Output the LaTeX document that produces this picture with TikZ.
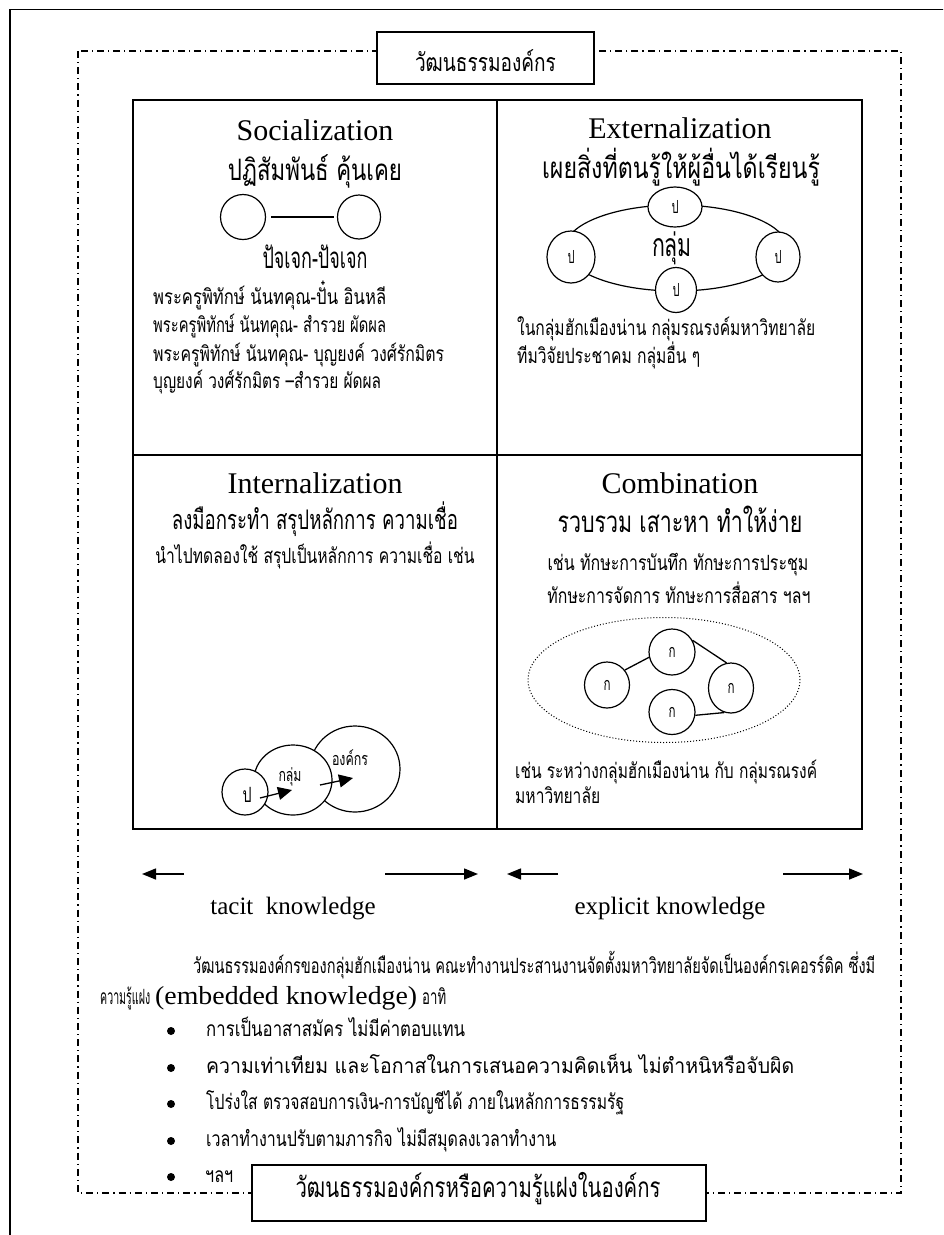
\documentclass[tikz,border=0pt]{standalone}
\usepackage{fontspec}
\setmainfont{Liberation Serif}
\newfontfamily\thai[Script=Thai]{Loma}
\usetikzlibrary{shapes.geometric,arrows.meta}

% Thai text: #1 = font size, #2 = set width, #3 = text
\newcommand{\thw}[3]{\resizebox{#2pt}{\height}{\thai\fontsize{#1}{#1}\selectfont #3}}
% Latin text at a given size
\newcommand{\lat}[2]{{\fontsize{#1}{#1}\selectfont #2}}
% text sizes
\def\thbig{29.5}
\def\thmid{21}

\tikzset{
  outerframe/.style={line width=1.5pt},
  dashdotframe/.style={line width=1.1pt, dash pattern=on 7pt off 4pt on 1.2pt off 4pt},
  labelbox/.style={draw, line width=1.3pt, fill=white, inner sep=0},
  cellline/.style={line width=1.4pt},
  person/.style={draw, ellipse, line width=1.2pt, fill=white, inner sep=0},
  txt/.style={inner sep=0, anchor=base},
  txtw/.style={inner sep=0, anchor=base west},
  kwarrow/.style={line width=1.5pt, -{Triangle[length=14pt,width=11pt]}},
  bigarrow/.style={line width=1.3pt, -{Triangle[length=14pt,width=13pt]}},
  link/.style={line width=1.3pt},
  bulletdot/.style={circle, fill, inner sep=0, minimum size=8pt},
}

\begin{document}
\begin{tikzpicture}[x=1pt,y=-1pt]
\useasboundingbox (0,0) rectangle (943,1235);
\clip (0,0) rectangle (943,1235);

% page frame and dash-dot frame
\draw[outerframe] (10,1240) -- (10,9.5) -- (950,9.5);
\draw[dashdotframe] (78,51) rectangle (901,1193);

% heading box
\node[labelbox, minimum width=217, minimum height=52] (culture) at (485.5,58) {};
\node[txt] (culturetext) at (485.5,71) {\thw{25}{141}{วัฒนธรรมองค์กร}};

% four quadrants
\draw[cellline] (133,100) rectangle (862,829);
\draw[cellline] (497,100) -- (497,829);
\draw[cellline] (133,455) -- (862,455);

% --- Socialization
\node[txt] (soctitle) at (315,140) {\lat{30}{Socialization}};
\node[txt] (socsub) at (315,180) {\thw{\thbig}{174}{ปฏิสัมพันธ์ คุ้นเคย}};
\node[person, minimum width=45, minimum height=45] (pa) at (243,217) {};
\node[person, minimum width=43, minimum height=44] (pb) at (359,217) {};
\draw[link, shorten <=5pt, shorten >=3pt] (pa) -- (pb);
\node[txt] (socpair) at (315,268) {\thw{\thbig}{105}{ปัจเจก-ปัจเจก}};
\node[txtw] (sn1) at (153,304) {\thw{\thmid}{233}{พระครูพิทักษ์ นันทคุณ-ปั๋น อินหลี}};
\node[txtw] (sn2) at (153,332) {\thw{\thmid}{233}{พระครูพิทักษ์ นันทคุณ- สำรวย ผัดผล}};
\node[txtw] (sn3) at (153,361) {\thw{\thmid}{291}{พระครูพิทักษ์ นันทคุณ- บุญยงค์ วงศ์รักมิตร}};
\node[txtw] (sn4) at (153,388) {\thw{\thmid}{228}{บุญยงค์ วงศ์รักมิตร –สำรวย ผัดผล}};

% --- Externalization
\node[txt] (exttitle) at (680,138) {\lat{30}{Externalization}};
\node[txt] (extsub) at (681,178) {\thw{\thbig}{278}{เผยสิ่งที่ตนรู้ให้ผู้อื่นได้เรียนรู้}};
\node[draw, ellipse, line width=1.2pt, minimum width=222, minimum height=86, inner sep=0] (grp) at (676,248) {};
\node[txt] (grptext) at (672,256) {\thw{32}{40}{กลุ่ม}};
\node[person, minimum width=54, minimum height=40] (e1) at (675,207) {\thw{18}{7}{ป}};
\node[person, minimum width=48, minimum height=52] (e2) at (571,257) {\thw{18}{7}{ป}};
\node[person, minimum width=44, minimum height=50] (e3) at (778,257) {\thw{18}{7}{ป}};
\node[person, minimum width=41, minimum height=45] (e4) at (676,290) {\thw{18}{7}{ป}};
\node[txtw] (ex1) at (517,335) {\thw{\thmid}{298}{ในกลุ่มฮักเมืองน่าน กลุ่มรณรงค์มหาวิทยาลัย}};
\node[txtw] (ex2) at (517,363) {\thw{\thmid}{183}{ทีมวิจัยประชาคม กลุ่มอื่น ๆ}};

% --- Internalization
\node[txt] (inttitle) at (315,493) {\lat{30}{Internalization}};
\node[txt] (intsub) at (315,529) {\thw{27}{286}{ลงมือกระทำ สรุปหลักการ ความเชื่อ}};
\node[txt] (intnote) at (315,563) {\thw{\thmid}{319}{นำไปทดลองใช้ สรุปเป็นหลักการ ความเชื่อ เช่น}};
\node[person, minimum width=90, minimum height=86] (org) at (355,769) {};
\node[person, minimum width=78, minimum height=70] (team) at (293,780) {};
\node[person, minimum width=46, minimum height=46] (self) at (245,792) {};
\node[txt] (orgtext) at (350,765) {\thw{18}{36}{องค์กร}};
\node[txt] (teamtext) at (290,781) {\thw{18}{23}{กลุ่ม}};
\node[txt] (selftext) at (247,802) {\thw{21}{9}{ป}};
\coordinate (a1s) at (260,798);
\coordinate (a1e) at (292,790);
\coordinate (a2s) at (320,785);
\coordinate (a2e) at (353,778);
\draw[bigarrow] (a1s) -- (a1e);
\draw[bigarrow] (a2s) -- (a2e);

% --- Combination
\node[txt] (comtitle) at (680,493) {\lat{30}{Combination}};
\node[txt] (comsub) at (680,532) {\thw{\thbig}{245}{รวบรวม เสาะหา ทำให้ง่าย}};
\node[txt] (comn1) at (678,570) {\thw{\thmid}{261}{เช่น ทักษะการบันทึก ทักษะการประชุม}};
\node[txt] (comn2) at (679,603) {\thw{\thmid}{263}{ทักษะการจัดการ ทักษะการสื่อสาร ฯลฯ}};
\node[draw, ellipse, dotted, line width=1pt, minimum width=272, minimum height=125, inner sep=0] (net) at (664,680) {};
\node[person, minimum width=45, minimum height=46] (k1) at (607,685) {\thw{18}{7}{ก}};
\node[person, minimum width=46, minimum height=46] (k2) at (672,652) {\thw{18}{7}{ก}};
\node[person, minimum width=45, minimum height=50] (k3) at (731,688) {\thw{18}{7}{ก}};
\node[person, minimum width=46, minimum height=45] (k4) at (672,712) {\thw{18}{7}{ก}};
\draw[link] (k1.40) -- (k2.193);
\draw[link] (k2.30) -- (k3.100);
\draw[link] (k4.-8) -- (k3.255);
\node[txtw] (com1) at (515,778) {\thw{\thmid}{302}{เช่น ระหว่างกลุ่มฮักเมืองน่าน กับ กลุ่มรณรงค์}};
\node[txtw] (com2) at (515,803) {\thw{\thmid}{85}{มหาวิทยาลัย}};

% --- tacit / explicit
\coordinate (t1s) at (184,874); \coordinate (t1e) at (142,874);
\coordinate (t2s) at (385,874); \coordinate (t2e) at (478,874);
\coordinate (x1s) at (558,874); \coordinate (x1e) at (507,874);
\coordinate (x2s) at (783,874); \coordinate (x2e) at (863,874);
\draw[kwarrow] (t1s) -- (t1e);
\draw[kwarrow] (t2s) -- (t2e);
\draw[kwarrow] (x1s) -- (x1e);
\draw[kwarrow] (x2s) -- (x2e);
\node[txt] (tacit) at (293,914) {\lat{25}{tacit\ \ knowledge}};
\node[txt] (explicit) at (670,914) {\lat{25}{explicit knowledge}};

% --- paragraph and list
\node[txtw] (p1) at (193,973) {\thw{\thmid}{682}{วัฒนธรรมองค์กรของกลุ่มฮักเมืองน่าน คณะทำงานประสานงานจัดตั้งมหาวิทยาลัยจัดเป็นองค์กรเคอรร์ดิค ซึ่งมี}};
\node[txtw] (p2) at (100,1004) {\thw{\thmid}{50}{ความรู้แฝง}\hspace{5pt}\resizebox{262pt}{\height}{\lat{26}{(embedded knowledge)}}\hspace{5pt}\thw{\thmid}{24}{อาทิ}};
\node[bulletdot] (b1) at (171,1031) {};
\node[bulletdot] (b2) at (171,1068) {};
\node[bulletdot] (b3) at (171,1104) {};
\node[bulletdot] (b4) at (171,1141) {};
\node[bulletdot] (b5) at (171,1177) {};
\node[txtw] (l1) at (206,1036) {\thw{\thmid}{259}{การเป็นอาสาสมัคร ไม่มีค่าตอบแทน}};
\node[txtw] (l2) at (206,1073) {\thw{\thmid}{588}{ความเท่าเทียม และโอกาสในการเสนอความคิดเห็น ไม่ตำหนิหรือจับผิด}};
\node[txtw] (l3) at (206,1109) {\thw{\thmid}{418}{โปร่งใส ตรวจสอบการเงิน-การบัญชีได้ ภายในหลักการธรรมรัฐ}};
\node[txtw] (l4) at (206,1146) {\thw{\thmid}{350}{เวลาทำงานปรับตามภารกิจ ไม่มีสมุดลงเวลาทำงาน}};
\node[txtw] (l5) at (205,1182) {\thw{\thmid}{28}{ฯลฯ}};

% closing box
\node[labelbox, minimum width=454, minimum height=56] (tacitbox) at (479,1193) {};
\node[txt] (tacitboxtext) at (478,1197) {\thw{28}{365}{วัฒนธรรมองค์กรหรือความรู้แฝงในองค์กร}};
\end{tikzpicture}
\end{document}
